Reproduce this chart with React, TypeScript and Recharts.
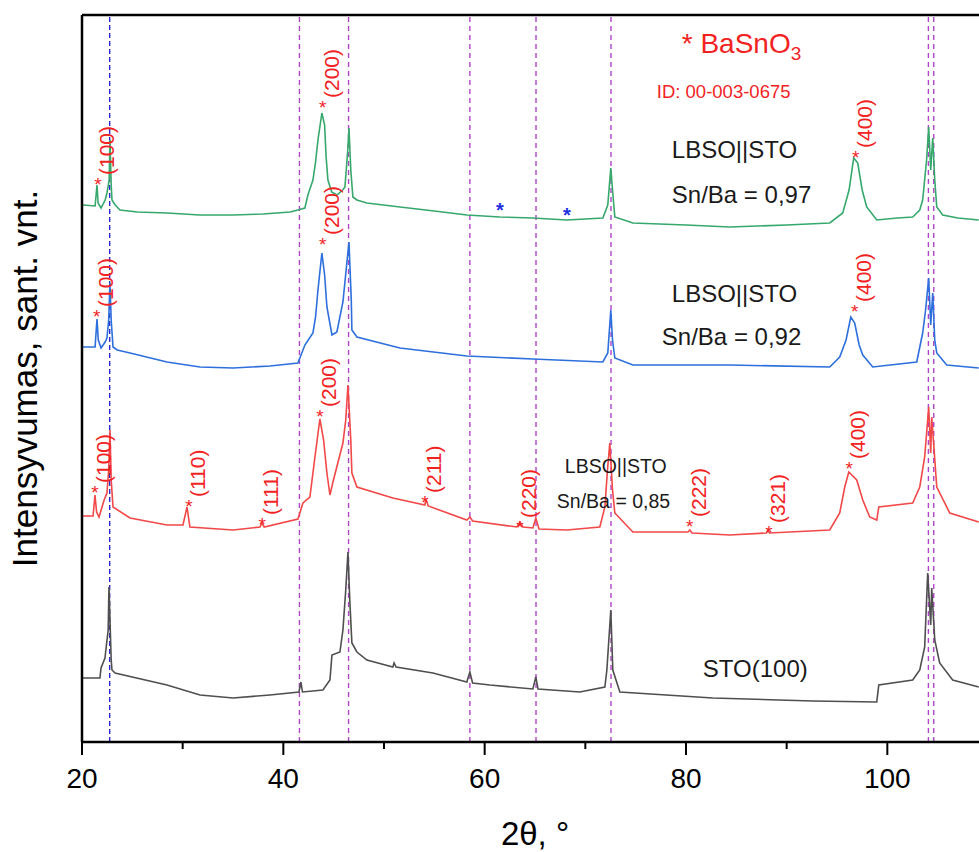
import React from "react";
import {
  LineChart,
  Line,
  XAxis,
  YAxis,
  ReferenceLine,
  ReferenceDot,
} from "recharts";

// 2θ (deg) vs intensity (arb. units, offset per trace)
const sto97: [number, number][] = [
  [20.1, 537], [21.3, 536], [21.49, 557], [21.6, 539], [21.89, 534], [22.3, 542], [22.48, 549], [22.7, 562],
  [22.78, 602], [22.9, 557], [22.98, 542], [23.3, 537], [23.77, 532], [25.5, 530], [28.44, 529], [31.7, 527],
  [35.0, 527], [38.0, 528], [40.66, 530], [41.45, 532], [42.14, 534], [42.44, 547], [42.94, 562], [43.2, 580], [43.44, 602],
  [43.83, 629], [44.1, 617], [44.25, 585], [44.43, 562], [44.8, 550], [45.32, 547], [45.9, 552], [46.12, 555], [46.4, 592],
  [46.52, 614], [46.7, 572], [46.91, 545], [47.31, 542], [48.3, 539], [51.58, 535], [55.0, 531], [58.23, 527],
  [61.51, 525], [64.79, 524], [68.16, 522], [71.74, 524], [72.23, 537], [72.53, 574], [72.7, 552], [72.93, 525],
  [74.72, 519], [80.0, 517], [84.35, 515], [90.0, 517], [94.28, 519], [95.57, 529], [96.2, 552], [96.66, 584],
  [97.06, 579], [97.5, 552], [97.95, 535], [98.95, 522], [101.0, 524], [102.52, 525], [103.22, 532], [103.51, 542],
  [103.9, 582], [104.11, 615], [104.31, 572], [104.51, 604], [104.71, 562], [104.91, 535], [105.5, 527],
  [107.0, 524], [109.08, 522],
];

const sto92: [number, number][] = [
  [20.1, 395], [21.3, 395], [21.49, 423], [21.62, 402], [21.89, 394], [22.3, 400], [22.48, 404], [22.65, 422],
  [22.78, 459], [22.9, 422], [23.08, 395], [23.5, 392], [24.77, 389], [28.44, 380], [31.72, 375], [35.0, 374],
  [38.67, 376], [41.45, 379], [42.14, 397], [42.94, 409], [43.2, 425], [43.44, 452], [43.83, 489], [44.1, 467], [44.33, 435],
  [44.83, 407], [45.32, 410], [45.92, 440], [46.52, 500], [46.75, 442], [46.81, 412], [47.31, 405], [51.58, 394],
  [58.23, 386], [64.79, 383], [71.74, 380], [72.23, 389], [72.53, 432], [72.7, 402], [72.93, 384], [74.72, 377],
  [84.35, 377], [94.28, 375], [95.27, 385], [95.9, 402], [96.37, 425], [96.76, 419], [97.2, 397], [97.56, 387],
  [98.55, 375], [102.92, 380], [103.51, 409], [103.8, 432], [104.11, 464], [104.31, 417], [104.51, 449],
  [104.71, 402], [104.91, 389], [105.9, 377], [109.08, 374],
];

const sto85: [number, number][] = [
  [20.1, 226], [21.1, 226], [21.29, 247], [21.45, 230], [21.69, 225], [22.2, 242], [22.48, 249], [22.65, 272],
  [22.78, 312], [22.9, 262], [23.08, 235], [24.77, 224], [28.44, 217], [30.03, 217], [30.43, 235], [30.72, 215],
  [35.0, 212], [37.68, 215], [37.87, 219], [38.1, 215], [41.45, 223], [41.95, 239], [42.64, 245], [43.14, 285],
  [43.63, 323], [44.0, 302], [44.33, 269], [44.63, 247], [44.93, 260], [45.92, 299], [46.2, 322], [46.42, 357],
  [46.7, 302], [46.81, 269], [47.31, 255], [50.88, 244], [54.06, 237], [54.16, 243], [54.4, 236], [58.23, 222],
  [58.53, 225], [58.8, 221], [63.2, 215], [63.5, 220], [63.8, 215], [64.79, 214], [65.08, 224], [65.4, 213],
  [68.16, 212], [71.44, 215], [71.94, 235], [72.2, 272], [72.43, 299], [72.7, 252], [72.93, 229], [74.72, 210],
  [80.2, 210], [80.38, 212], [80.6, 209], [84.35, 207], [88.0, 209], [88.12, 212], [88.3, 209], [94.28, 212],
  [95.27, 229], [95.77, 255], [96.17, 270], [96.96, 262], [97.56, 242], [98.25, 225], [98.95, 222], [99.15, 235],
  [102.52, 239], [103.22, 255], [103.71, 285], [104.11, 335], [104.31, 289], [104.41, 325], [104.91, 255],
  [106.2, 229], [109.08, 220],
];

const sto100: [number, number][] = [
  [20.1, 64], [21.78, 64], [21.89, 74], [22.28, 84], [22.6, 112], [22.68, 155], [22.9, 82], [22.98, 72],
  [23.28, 69], [28.44, 57], [31.72, 47], [35.0, 44], [38.67, 47], [41.55, 50], [41.75, 60], [41.9, 50],
  [43.93, 52], [44.63, 62], [44.83, 87], [45.62, 90], [45.92, 112], [46.2, 152], [46.42, 190], [46.6, 142],
  [46.81, 99], [47.31, 90], [48.3, 82], [50.88, 75], [51.0, 79], [51.2, 75], [54.86, 69], [58.23, 60],
  [58.53, 70], [58.8, 59], [60.52, 57], [64.79, 53], [65.08, 65], [65.3, 53], [69.45, 50], [71.94, 55],
  [72.14, 72], [72.53, 132], [72.73, 72], [73.43, 50], [82.66, 44], [92.59, 41], [98.95, 40], [99.15, 57],
  [102.52, 62], [103.22, 72], [103.71, 95], [104.01, 169], [104.31, 117], [104.41, 154], [104.71, 102],
  [105.2, 79], [106.49, 62], [109.08, 55],
];

const xTicks = [20, 30, 40, 50, 60, 70, 80, 90, 100, 110];
const stoLineBlue = [22.75];
const stoLinesPurple = [41.6, 46.48, 58.53, 65.1, 72.55, 104.08, 104.61];

// Miller index labels: [2θ, intensity, text]
const millerLabels: [number, number, string][] = [
  [21.59, 562, "(100)"], [43.9, 639, "(200)"], [96.86, 589, "(400)"],
  [21.46, 430, "(100)"], [43.9, 502, "(200)"], [96.76, 435, "(400)"],
  [21.29, 254, "(100)"], [30.63, 240, "(110)"], [37.9, 222, "(111)"], [43.63, 330, "(200)"],
  [54.06, 244, "(211)"], [63.5, 219, "(220)"], [80.38, 220, "(222)"], [88.25, 214, "(321)"],
  [96.2, 278, "(400)"],
];
const impurityStars: [number, number][] = [[61.51, 536], [68.16, 531]];

// sample labels: [2θ, intensity, text, fontSize]
const sampleLabels: [number, number, string, number][] = [
  [78.59, 584, "LBSO||STO", 24], [78.59, 539, "Sn/Ba = 0,97", 24],
  [78.59, 440, "LBSO||STO", 24], [77.6, 397, "Sn/Ba = 0,92", 24],
  [67.96, 269, "LBSO||STO", 19.5], [67.17, 234, "Sn/Ba = 0,85", 19.5],
  [81.67, 65, "STO(100)", 24],
];
const legendTitle: [number, number] = [79.58, 689];
const legendId: [number, number, string] = [77.1, 644, "ID: 00-003-0675"];

const RED = "#f2231f";
const FONT = '"Liberation Sans", Arial, sans-serif';

const toXY = (arr: [number, number][]) => arr.map(([x, y]) => ({ x, y }));

const XTick = (props: any) => {
  const { x, y, payload } = props;
  const major = payload.value % 20 === 0;
  return (
    <g>
      <line x1={x} x2={x} y1={y} y2={y + (major ? 13 : 7)} stroke="#000" strokeWidth={2} />
      {major && (
        <text x={x} y={y + 46} textAnchor="middle" fontSize={28} fill="#000" fontFamily={FONT}>
          {payload.value}
        </text>
      )}
    </g>
  );
};

const MillerShape = (text: string) => (p: any) => (
  <g>
    <text x={p.cx} y={p.cy + 11} textAnchor="middle" fontSize={19} fill={RED} fontFamily={FONT}>
      *
    </text>
    <text
      transform={`translate(${p.cx + 16},${p.cy - 5}) rotate(-90)`}
      fontSize={21}
      fill={RED}
      fontFamily={FONT}
    >
      {text}
    </text>
  </g>
);

const StarShape = (p: any) => (
  <text x={p.cx} y={p.cy + 11} textAnchor="middle" fontSize={20} fontWeight="bold" fill="#2030e0" fontFamily={FONT}>
    *
  </text>
);

const TextShape = (text: string, size: number, color: string) => (p: any) => (
  <text x={p.cx} y={p.cy} fontSize={size} fill={color} fontFamily={FONT}>
    {text}
  </text>
);

const TitleShape = (p: any) => (
  <text x={p.cx} y={p.cy} fontSize={28} fill={RED} fontFamily={FONT}>
    * BaSnO
    <tspan dy={7} fontSize={19}>
      3
    </tspan>
  </text>
);

const XLabel = (props: any) => {
  const vb = props.viewBox || {};
  return (
    <text x={vb.x + vb.width / 2} y={vb.y + 103} textAnchor="middle" fontSize={33} fill="#000" fontFamily={FONT}>
      2θ, °
    </text>
  );
};

const YLabel = (props: any) => {
  const vb = props.viewBox || {};
  const cx = vb.x + 37;
  const cy = vb.y + vb.height / 2;
  return (
    <text
      transform={`rotate(-90, ${cx}, ${cy})`}
      x={cx}
      y={cy}
      textAnchor="middle"
      fontSize={35}
      fill="#000"
      fontFamily={FONT}
    >
      Intensyvumas, sant. vnt.
    </text>
  );
};

export default function App() {
  return (
    <div
      style={{
        position: "absolute",
        left: 0,
        top: 0,
        width: 979,
        height: 852,
        overflow: "hidden",
        background: "#fff",
        fontFamily: FONT,
      }}
    >
      <LineChart width={1000} height={852} margin={{ top: 15, right: 12, bottom: 0, left: 0 }}>
        <XAxis
          type="number"
          dataKey="x"
          domain={[20, 110]}
          ticks={xTicks}
          allowDataOverflow
          height={110}
          tickSize={0}
          tickMargin={0}
          tickLine={false}
          tick={<XTick />}
          axisLine={{ stroke: "#000", strokeWidth: 2.5 }}
          label={<XLabel />}
        />
        <YAxis
          type="number"
          domain={[0, 727]}
          allowDataOverflow
          width={82}
          tick={false}
          tickLine={false}
          axisLine={{ stroke: "#000", strokeWidth: 2.5 }}
          label={<YLabel />}
        />
        <ReferenceLine y={727} stroke="#000" strokeWidth={2.5} />
        {stoLineBlue.map((v) => (
          <ReferenceLine key={"b" + v} x={v} stroke="#2a2ad0" strokeWidth={1.4} strokeDasharray="5 3" />
        ))}
        {stoLinesPurple.map((v) => (
          <ReferenceLine key={"p" + v} x={v} stroke="#b044c8" strokeWidth={1.4} strokeDasharray="5 4" />
        ))}
        <Line data={toXY(sto100)} dataKey="y" type="linear" stroke="#4f4f4f" strokeWidth={1.6} dot={false} isAnimationActive={false} />
        <Line data={toXY(sto85)} dataKey="y" type="linear" stroke="#f24848" strokeWidth={1.6} dot={false} isAnimationActive={false} />
        <Line data={toXY(sto92)} dataKey="y" type="linear" stroke="#2d6fdc" strokeWidth={1.6} dot={false} isAnimationActive={false} />
        <Line data={toXY(sto97)} dataKey="y" type="linear" stroke="#36a86c" strokeWidth={1.6} dot={false} isAnimationActive={false} />
        {millerLabels.map(([x, y, t], i) => (
          <ReferenceDot key={"m" + i} x={x} y={y} r={1} ifOverflow="visible" shape={MillerShape(t)} />
        ))}
        {impurityStars.map(([x, y], i) => (
          <ReferenceDot key={"s" + i} x={x} y={y} r={1} ifOverflow="visible" shape={StarShape} />
        ))}
        {sampleLabels.map(([x, y, t, s], i) => (
          <ReferenceDot key={"t" + i} x={x} y={y} r={1} ifOverflow="visible" shape={TextShape(t, s, "#1a1a1a")} />
        ))}
        <ReferenceDot x={legendTitle[0]} y={legendTitle[1]} r={1} ifOverflow="visible" shape={TitleShape} />
        <ReferenceDot x={legendId[0]} y={legendId[1]} r={1} ifOverflow="visible" shape={TextShape(legendId[2], 18.5, RED)} />
      </LineChart>
    </div>
  );
}
